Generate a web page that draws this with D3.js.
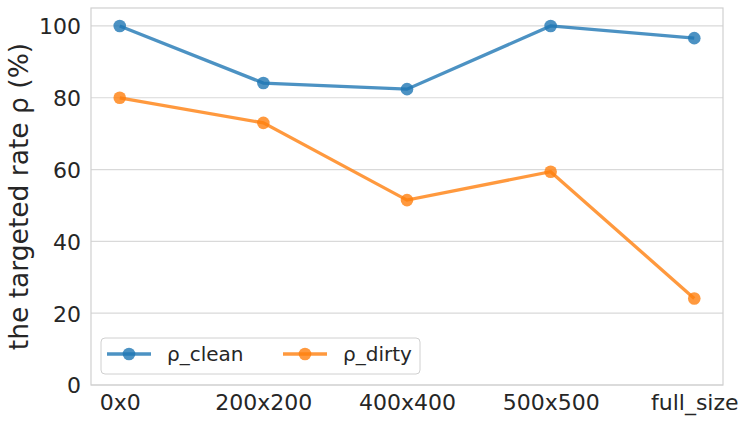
<!DOCTYPE html>
<html>
<head>
<meta charset="utf-8">
<script src="https://cdnjs.cloudflare.com/ajax/libs/d3/7.8.5/d3.min.js"></script>
<style>
  body { margin: 0; background: #fff; }
  text { font-family: "DejaVu Sans", sans-serif; fill: #262626; }
</style>
</head>
<body>
<div id="chart"></div>
<script>
// data
var categories = ["0x0", "200x200", "400x400", "500x500", "full_size"];
var rhoClean = [100, 84.1, 82.4, 100, 96.6];
var rhoDirty = [80, 73, 51.5, 59.4, 24.1];
var yTicks = [0, 20, 40, 60, 80, 100];

var series = [
    {name: "ρ_clean", values: rhoClean, color: "#1f77b4"},
    {name: "ρ_dirty", values: rhoDirty, color: "#ff7f0e"}
];

var svgWidth = 748;
var svgHeight = 424;
var margin = {top: 8, right: 25, bottom: 39, left: 91};
var width = svgWidth - margin.left - margin.right;
var height = svgHeight - margin.top - margin.bottom;

var svg = d3.select("#chart")
    .append("svg")
    .attr("width", svgWidth)
    .attr("height", svgHeight);

var chartGroup = svg.append("g")
    .attr("transform", `translate(${margin.left}, ${margin.top})`);

// scales
var xScale = d3.scaleLinear()
    .domain([-0.2, categories.length - 1 + 0.2])
    .range([0, width]);

var yScale = d3.scaleLinear()
    .domain([0, 105])
    .range([height, 0]);

// grid lines
chartGroup.append("g")
    .selectAll("line")
    .data(yTicks)
    .enter()
    .append("line")
    .attr("x1", 0)
    .attr("x2", width)
    .attr("y1", d => yScale(d))
    .attr("y2", d => yScale(d))
    .attr("stroke", "#d9d9d9")
    .attr("stroke-width", 1.2);

// frame
chartGroup.append("rect")
    .attr("width", width)
    .attr("height", height)
    .attr("fill", "none")
    .attr("stroke", "#d0d0d0")
    .attr("stroke-width", 1.2);

// axes
var leftAxis = d3.axisLeft(yScale).tickValues(yTicks).tickSize(0).tickPadding(10);
var bottomAxis = d3.axisBottom(xScale)
    .tickValues(d3.range(categories.length))
    .tickFormat(i => categories[i])
    .tickSize(0).tickPadding(10);

var yAxis = chartGroup.append("g").call(leftAxis);
yAxis.select(".domain").remove();
yAxis.selectAll("text").style("font-size", "22px").attr("dy", "0.36em");

var xAxis = chartGroup.append("g")
    .attr("transform", `translate(0, ${height})`)
    .call(bottomAxis);
xAxis.select(".domain").remove();
xAxis.selectAll("text").style("font-size", "22px").attr("y", 25).attr("dy", 0);

// y label
chartGroup.append("text")
    .attr("transform", "rotate(-90)")
    .attr("x", -height / 2)
    .attr("y", -63)
    .attr("text-anchor", "middle")
    .style("font-size", "26.5px")
    .text("the targeted rate ρ (%)");

// lines and markers (alpha on each part, like matplotlib)
var line = d3.line()
    .x((d, i) => xScale(i))
    .y(d => yScale(d));

series.forEach(function(s) {
    var g = chartGroup.append("g");
    g.append("path")
        .datum(s.values)
        .attr("d", line)
        .attr("fill", "none")
        .attr("stroke", s.color)
        .attr("stroke-opacity", 0.8)
        .attr("stroke-width", 3.3);
    g.selectAll("circle")
        .data(s.values)
        .enter()
        .append("circle")
        .attr("cx", (d, i) => xScale(i))
        .attr("cy", d => yScale(d))
        .attr("r", 6.3)
        .attr("fill", s.color)
        .attr("fill-opacity", 0.8);
});

// legend
var legend = chartGroup.append("g")
    .attr("transform", `translate(${101 - margin.left}, ${338 - margin.top})`);

legend.append("rect")
    .attr("width", 319)
    .attr("height", 36)
    .attr("rx", 4)
    .attr("fill", "#fff")
    .attr("fill-opacity", 0.8)
    .attr("stroke", "#d0d0d0")
    .attr("stroke-width", 1);

var entryX = [6, 182];
series.forEach(function(s, i) {
    var e = legend.append("g")
        .attr("transform", `translate(${entryX[i]}, 16)`);
    e.append("line")
        .attr("x1", 0).attr("x2", 44)
        .attr("stroke", s.color).attr("stroke-opacity", 0.8)
        .attr("stroke-width", 3.3);
    e.append("circle")
        .attr("cx", 22).attr("r", 6.3)
        .attr("fill", s.color).attr("fill-opacity", 0.8);
    legend.append("text")
        .attr("x", entryX[i] + 60)
        .attr("y", 16)
        .attr("dy", "0.36em")
        .style("font-size", "20px")
        .text(s.name);
});
</script>
</body>
</html>
